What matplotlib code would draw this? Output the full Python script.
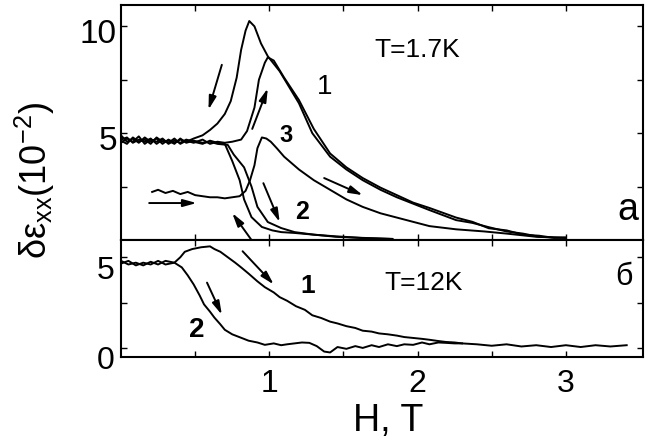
import matplotlib
matplotlib.use("Agg")
import matplotlib.pyplot as plt
import matplotlib.transforms as mtransforms

plt.rcParams['font.family'] = ['Liberation Sans', 'DejaVu Sans']
plt.rcParams['mathtext.fontset'] = 'custom'
plt.rcParams['mathtext.rm'] = 'Liberation Sans'
plt.rcParams['mathtext.it'] = 'Liberation Sans:italic'

# ---- panel a, T=1.7K ----
flat_x = [0.0, 0.04, 0.08, 0.12, 0.16, 0.2, 0.24, 0.28, 0.32, 0.36, 0.4, 0.44]
a_x = flat_x + [0.49, 0.55, 0.6, 0.65, 0.7, 0.74, 0.78, 0.81, 0.84, 0.865, 0.9, 0.944, 0.99,
                1.07, 1.2, 1.29, 1.41, 1.52, 1.63, 1.75, 1.86, 1.97, 2.08, 2.26, 2.37, 2.48, 2.6, 2.71, 2.82, 2.92, 3.0]
a_y = [4.9, 4.6, 4.75, 4.55, 4.8, 4.6, 4.75, 4.5, 4.7, 4.55, 4.7, 4.6] + \
      [4.75, 4.9, 5.15, 5.45, 5.9, 6.5, 7.6, 8.9, 9.8, 10.25, 10.0, 9.2, 8.6,
       7.9, 6.4, 5.0, 3.9, 3.3, 2.8, 2.35, 2.0, 1.7, 1.4, 0.93, 0.8, 0.6, 0.4, 0.3, 0.15, 0.12, 0.1]
b_x = flat_x + [0.49, 0.55, 0.6, 0.65, 0.7, 0.75, 0.81, 0.85, 0.9, 0.93, 0.97, 0.99,
                1.03, 1.1, 1.2, 1.3, 1.41, 1.52, 1.63, 1.75, 1.86, 1.97, 2.08, 2.26, 2.37, 2.48, 2.6, 2.71, 2.82, 2.92, 3.0]
b_y = [4.7, 4.8, 4.55, 4.7, 4.6, 4.75, 4.5, 4.7, 4.55, 4.75, 4.5, 4.65] + \
      [4.55, 4.7, 4.5, 4.6, 4.55, 4.6, 4.7, 5.1, 6.2, 7.5, 8.3, 8.55,
       8.4, 7.6, 6.55, 5.2, 4.05, 3.4, 2.9, 2.45, 2.1, 1.75, 1.5, 1.05, 0.85, 0.55, 0.45, 0.25, 0.2, 0.1, 0.12]
c3_x = [0.21, 0.25, 0.3, 0.35, 0.4, 0.45, 0.5, 0.55, 0.6, 0.65, 0.7, 0.75, 0.8, 0.84, 0.87, 0.9, 0.92,
        0.95, 0.98, 1.01, 1.05, 1.1, 1.2, 1.3, 1.41, 1.52, 1.63, 1.75, 1.86, 1.97, 2.08, 2.26, 2.45, 2.6, 2.8, 3.0]
c3_y = [2.25, 2.35, 2.2, 2.3, 2.15, 2.25, 2.1, 2.05, 2.0, 2.0, 1.95, 2.0, 2.05, 2.3, 2.8, 3.5, 4.3,
        4.8, 4.75, 4.6, 4.3, 3.9, 3.3, 2.8, 2.35, 1.9, 1.55, 1.25, 1.05, 0.85, 0.65, 0.5, 0.4, 0.3, 0.15, 0.1]
c_x = flat_x + [0.49, 0.55, 0.6, 0.65, 0.7, 0.75, 0.8, 0.83, 0.88, 0.95, 1.02, 1.08, 1.17, 1.3, 1.45, 1.63, 1.83]
c_y = [4.55, 4.75, 4.6, 4.85, 4.5, 4.7, 4.6, 4.75, 4.5, 4.65, 4.55, 4.7] + \
      [4.6, 4.5, 4.65, 4.55, 4.5, 3.7, 2.8, 1.9, 1.07, 0.61, 0.45, 0.37, 0.33, 0.25, 0.15, 0.09, 0.05]
d_x = flat_x + [0.49, 0.55, 0.6, 0.65, 0.72, 0.76, 0.83, 0.88, 0.92, 0.99, 1.08, 1.17, 1.3, 1.45, 1.63, 1.83]
d_y = [4.65, 4.5, 4.8, 4.6, 4.7, 4.5, 4.8, 4.6, 4.65, 4.5, 4.75, 4.55] + \
      [4.65, 4.55, 4.6, 4.5, 4.45, 4.0, 3.4, 2.5, 1.55, 0.84, 0.56, 0.37, 0.25, 0.17, 0.1, 0.05]

# arrows (tail x, tail y, head x, head y)
arrows_a = [(0.68, 8.2, 0.59, 6.1), (0.885, 5.2, 0.99, 7.1), (0.19, 1.73, 0.51, 1.73),
            (0.96, 2.66, 1.07, 0.84), (0.88, 0.0, 0.75, 1.26), (1.37, 2.9, 1.63, 2.1)]

# ---- panel b, T=12K ----
b1_x = [0.0, 0.05, 0.1, 0.15, 0.2, 0.25, 0.3, 0.36, 0.4, 0.43, 0.48, 0.54, 0.6, 0.63, 0.67, 0.72, 0.77,
        0.81, 0.86, 0.92, 0.97, 1.03, 1.07, 1.12, 1.18, 1.24, 1.29, 1.35, 1.41, 1.46, 1.52, 1.58, 1.63,
        1.69, 1.74, 1.8, 1.86, 1.91, 1.97, 2.03, 2.08, 2.14, 2.19, 2.25, 2.3, 2.4, 2.5, 2.6, 2.7, 2.8,
        2.9, 3.0, 3.1, 3.2, 3.3, 3.41]
b1_y = [4.8, 4.6, 4.7, 4.55, 4.75, 4.6, 4.8, 4.7, 5.0, 5.3, 5.45, 5.55, 5.6, 5.45, 5.3, 5.0, 4.7,
        4.44, 4.1, 3.67, 3.35, 3.06, 2.8, 2.6, 2.3, 2.1, 1.8, 1.65, 1.45, 1.35, 1.2, 1.1, 0.95,
        0.9, 0.8, 0.75, 0.68, 0.6, 0.55, 0.5, 0.45, 0.38, 0.33, 0.3, 0.25, 0.2, 0.12, 0.2, 0.08, 0.15,
        0.05, 0.15, 0.05, 0.15, 0.08, 0.15]
b2_x = [0.0, 0.05, 0.1, 0.15, 0.2, 0.25, 0.3, 0.36, 0.41, 0.45, 0.49, 0.53, 0.56, 0.6, 0.63, 0.67, 0.7,
        0.75, 0.81, 0.86, 0.92, 0.97, 1.03, 1.08, 1.12, 1.17, 1.22, 1.27, 1.32, 1.37, 1.41, 1.46, 1.52,
        1.58, 1.63, 1.69, 1.74, 1.8, 1.86, 1.91, 1.97, 2.03, 2.08, 2.14, 2.19, 2.25, 2.3]
b2_y = [4.65, 4.8, 4.55, 4.7, 4.6, 4.8, 4.6, 4.7, 4.44, 4.0, 3.5, 2.9, 2.4, 2.0, 1.67, 1.3, 1.0,
        0.75, 0.56, 0.4, 0.3, 0.17, 0.25, 0.15, 0.2, 0.25, 0.3, 0.28, 0.1, -0.2, -0.25, 0.05, -0.05,
        0.1, 0.0, 0.15, 0.05, 0.2, 0.1, 0.2, 0.17, 0.3, 0.2, 0.3, 0.28, 0.25, 0.25]
arrows_b = [(0.82, 5.33, 1.03, 3.5), (0.58, 3.6, 0.68, 1.83)]

fig = plt.figure(figsize=(6.49, 4.46), dpi=100)
ax1 = fig.add_axes([121/649, 1-240/446, 522/649, 235/446])
ax2 = fig.add_axes([121/649, 1-357/446, 522/649, 117/446])

lw = 1.4
for xs, ys in [(a_x, a_y), (b_x, b_y), (c3_x, c3_y), (c_x, c_y), (d_x, d_y)]:
    ax1.plot(xs, ys, 'k-', lw=lw)
for xs, ys in [(b1_x, b1_y), (b2_x, b2_y)]:
    ax2.plot(xs, ys, 'k-', lw=lw)

for ax, arr in [(ax1, arrows_a), (ax2, arrows_b)]:
    for x0, y0, x1, y1 in arr:
        ax.annotate('', xy=(x1, y1), xytext=(x0, y0),
                    arrowprops=dict(arrowstyle='-|>,head_length=0.8,head_width=0.22', color='k', lw=1.4,
                                    shrinkA=0, shrinkB=0), annotation_clip=False)

ax1.set_xlim(0, 3.52); ax1.set_ylim(0, 11.0)
ax2.set_xlim(0, 3.52); ax2.set_ylim(-0.5, 5.95)

for ax in (ax1, ax2):
    for s in ax.spines.values():
        s.set_linewidth(1.5)
    ax.tick_params(which='both', direction='in', top=True, right=True, length=4, width=1)
    ax.set_xticks([1, 2, 3])
    ax.set_xticks([0.5, 1.5, 2.5], minor=True)
ax1.set_yticks([5, 10]); ax1.set_yticks([2.5, 7.5], minor=True)
ax2.set_yticks([0, 5]); ax2.set_yticks([2.5], minor=True)
ax1.tick_params(labelbottom=False, labelsize=24, pad=3)
ax2.tick_params(axis='y', labelsize=23, pad=5)
ax2.tick_params(axis='x', labelsize=23, pad=9)

# tick labels in the original sit a little below their ticks
for ax, dy in [(ax1, -5), (ax2, -10)]:
    off = mtransforms.ScaledTranslation(0, dy/100, fig.dpi_scale_trans)
    for lab in ax.get_yticklabels():
        lab.set_transform(lab.get_transform() + off)

ax1.text(2.0, 8.9, 'T=1.7K', fontsize=19, ha='center', va='center')
ax1.text(1.37, 7.15, '1', fontsize=20, ha='center', va='center')
ax1.text(1.11, 4.9, '3', fontsize=17, fontweight='bold', ha='center', va='center')
ax1.text(1.22, 1.3, '2', fontsize=18, fontweight='bold', ha='center', va='center')
ax1.text(3.42, 1.4, 'a', fontsize=27, ha='center', va='center')

ax2.text(2.04, 3.6, 'T=12K', fontsize=19, ha='center', va='center')
ax2.text(1.26, 3.4, '1', fontsize=19, fontweight='bold', ha='center', va='center')
ax2.text(0.51, 1.0, '2', fontsize=20, fontweight='bold', ha='center', va='center')
ax2.text(3.39, 3.9, 'б', fontsize=22, ha='center', va='center')

fig.text(35/649, 1-180/446, r'δε$_{\mathrm{xx}}$(10$^{\mathrm{-2}}$)', fontsize=26, rotation=90,
         ha='center', va='center')
fig.text(388/649, 1-421/446, 'H, T', fontsize=27, ha='center', va='center')

fig.savefig('out.png', dpi=100)
